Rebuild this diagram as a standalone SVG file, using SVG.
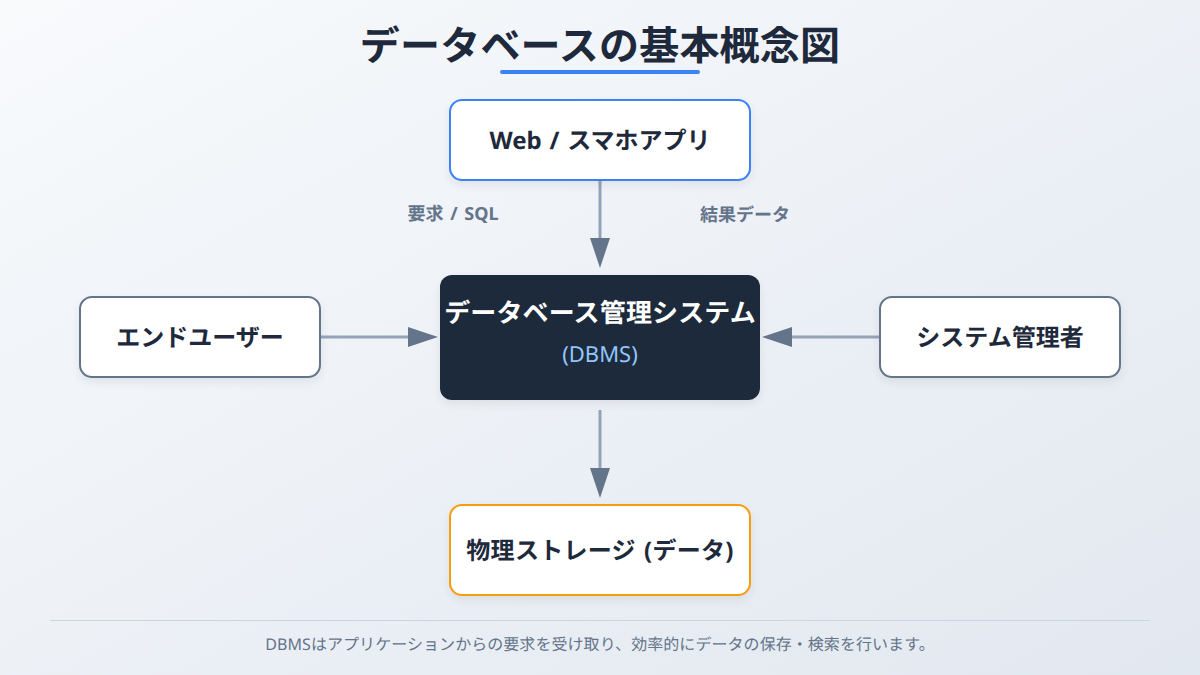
<svg xmlns="http://www.w3.org/2000/svg" width="1200" height="675" viewBox="0 0 1200 675">
<defs>
<linearGradient id="bg" x1="0" y1="0" x2="1" y2="1"><stop offset="0" stop-color="#f8fafc"/><stop offset="1" stop-color="#e2e8f0"/></linearGradient>
<filter id="sh" x="-20%" y="-30%" width="140%" height="160%"><feDropShadow dx="0" dy="4" stdDeviation="4" flood-color="#000" flood-opacity="0.07"/></filter>
<marker id="arrow" markerUnits="userSpaceOnUse" markerWidth="30" markerHeight="20" refX="0" refY="10" orient="auto"><path d="M0 0L30 10L0 20Z" fill="#64748b"/></marker>
</defs>
<style>
text{font-family:"Noto Sans","Noto Sans CJK JP",sans-serif;text-anchor:middle;text-rendering:geometricPrecision}
.box{fill:#fff;stroke-width:2;filter:url(#sh)}
.lbl{font-size:24px;font-weight:700;fill:#1e293b;word-spacing:1.5px}
.edge{font-size:18px;font-weight:700;fill:#64748b;word-spacing:2px}
.conn{stroke:#94a3b8;stroke-width:3;fill:none;marker-end:url(#arrow)}
</style>
<rect width="1200" height="675" fill="url(#bg)"/>
<g id="title"><text x="600" y="60" font-size="40" font-weight="700" fill="#1e293b" letter-spacing="0.2">データベースの基本概念図</text>
<rect x="500" y="70" width="200" height="4" rx="2" fill="#3b82f6"/></g>
<g id="connectors">
<line class="conn" x1="600" y1="180" x2="600" y2="238"/>
<line class="conn" x1="320" y1="337" x2="408" y2="337"/>
<line class="conn" x1="880" y1="337" x2="792" y2="337"/>
<line class="conn" x1="600" y1="410" x2="600" y2="468"/>
</g>
<g id="edge-labels">
<text class="edge" x="453" y="220">要求 / SQL</text>
<text class="edge" x="745" y="220.5">結果データ</text>
</g>
<g id="node-app"><rect class="box" x="450" y="100" width="300" height="80" rx="12" stroke="#3b82f6"/><text class="lbl" x="600" y="149">Web / スマホアプリ</text></g>
<g id="node-user"><rect class="box" x="80" y="297" width="240" height="80" rx="12" stroke="#64748b"/><text class="lbl" x="200" y="346">エンドユーザー</text></g>
<g id="node-dbms"><rect x="440" y="275" width="320" height="125" rx="12" fill="#1e293b" filter="url(#sh)"/><text x="600" y="322" font-size="26" font-weight="700" fill="#fff" letter-spacing="0.15">データベース管理システム</text><text x="600" y="362" font-size="22" fill="#93c5fd">(DBMS)</text></g>
<g id="node-admin"><rect class="box" x="880" y="297" width="240" height="80" rx="12" stroke="#64748b"/><text class="lbl" x="1000" y="346">システム管理者</text></g>
<g id="node-storage"><rect class="box" x="450" y="505" width="300" height="90" rx="12" stroke="#f59e0b"/><text class="lbl" x="600" y="559" letter-spacing="0.3">物理ストレージ (データ)</text></g>
<g id="footer"><line x1="50" y1="620.5" x2="1150" y2="620.5" stroke="#cbd5e1"/><text x="600" y="650" font-size="16" fill="#64748b" letter-spacing="0.06">DBMSはアプリケーションからの要求を受け取り、効率的にデータの保存・検索を行います。</text></g>
</svg>
